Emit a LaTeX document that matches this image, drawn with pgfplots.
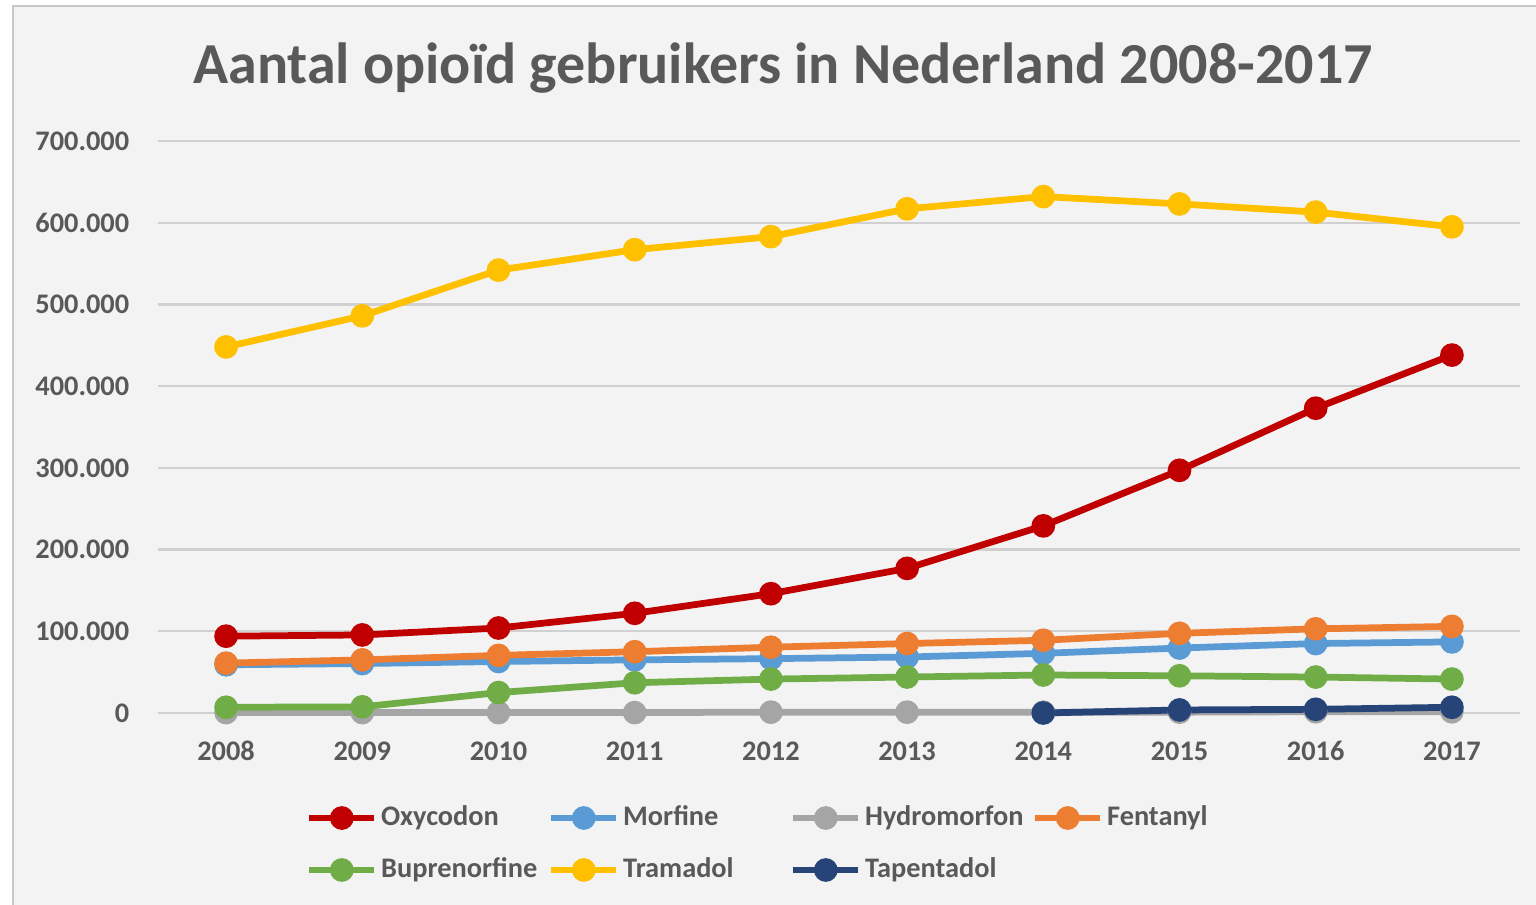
\documentclass[border=0pt]{standalone}
\usepackage{pgfplots}
\pgfplotsset{compat=1.18}
\usepackage{fontspec}
\setmainfont{Carlito}
\definecolor{bg}{HTML}{F3F3F3}
\definecolor{framec}{HTML}{C8C8C8}
\definecolor{txt}{HTML}{595959}
\definecolor{gridc}{HTML}{D0D0D0}
\definecolor{cOxy}{HTML}{C00000}
\definecolor{cMor}{HTML}{5B9BD5}
\definecolor{cHyd}{HTML}{A5A5A5}
\definecolor{cFen}{HTML}{ED7D31}
\definecolor{cBup}{HTML}{70AD47}
\definecolor{cTra}{HTML}{FFC000}
\definecolor{cTap}{HTML}{264478}
\begin{document}
\begin{tikzpicture}
\useasboundingbox (0,0) rectangle (16cm,9.4271cm);
\fill[bg] (0.1354cm,0) rectangle (16cm,9.365cm);
\draw[framec, line width=0.8pt] (0.1354cm,-0.1cm) -- (0.1354cm,9.365cm) -- (16.1cm,9.365cm);
\node[font=\bfseries\fontsize{17.2}{21}\selectfont, text=txt] at (8.156cm,8.719cm) {Aantal opioïd gebruikers in Nederland 2008-2017};
\begin{axis}[
  at={(1.6458cm,2.0cm)}, anchor=south west,
  scale only axis, width=14.1875cm, height=5.9583cm,
  xmin=-0.5, xmax=9.5, ymin=0, ymax=700000,
  axis line style={draw=none},
  clip=false,
  scaled y ticks=false,
  xtick={0,...,9},
  xticklabels={2008,2009,2010,2011,2012,2013,2014,2015,2016,2017},
  ytick={0,100000,200000,300000,400000,500000,600000,700000},
  yticklabels={0,100.000,200.000,300.000,400.000,500.000,600.000,700.000},
  tick label style={font=\bfseries\fontsize{8.4}{10}\selectfont, text=txt},
  major tick length=0pt,
  xmajorgrids=false,
  ymajorgrids=true,
  major grid style={draw=gridc, line width=0.7pt},
  yticklabel style={xshift=-5pt},
  xticklabel style={yshift=-3.5pt, text height=1.5ex, text depth=0pt},
  every axis plot/.append style={line width=2pt, mark=*, mark size=2.5pt},
  legend columns=4,
  legend style={at={(axis description cs:0.1006,-0.137)}, anchor=north west, draw=none, fill=none,
     font=\bfseries\fontsize{8.4}{10}\selectfont, text=txt,
     nodes={text width=1.70cm, align=left, inner xsep=1pt},
     /tikz/every odd column/.append style={column sep=0pt},
     row sep=4pt},
  legend image code/.code={\draw[#1, mark repeat=2, mark phase=2] plot coordinates {(0cm,0cm) (0.34cm,0cm) (0.68cm,0cm)};},
]
\addplot[color=cOxy, mark options={fill=cOxy, draw=cOxy}] coordinates {(0,94000) (1,95500) (2,104000) (3,122000) (4,146000) (5,177000) (6,229000) (7,297000) (8,373000) (9,438000)};
\addlegendentry{Oxycodon}
\addplot[color=cMor, mark options={fill=cMor, draw=cMor}] coordinates {(0,59000) (1,60500) (2,63000) (3,65000) (4,66500) (5,68500) (6,73000) (7,79500) (8,85000) (9,87000)};
\addlegendentry{Morfine}
\addplot[color=cHyd, mark options={fill=cHyd, draw=cHyd}] coordinates {(0,500) (1,500) (2,500) (3,500) (4,1000) (5,1000) (6,1000) (7,1000) (8,1500) (9,1500)};
\addlegendentry{Hydromorfon}
\addplot[color=cFen, mark options={fill=cFen, draw=cFen}] coordinates {(0,61000) (1,65000) (2,70500) (3,75000) (4,80500) (5,85000) (6,89000) (7,97500) (8,103000) (9,106000)};
\addlegendentry{Fentanyl}
\addplot[color=cBup, mark options={fill=cBup, draw=cBup}] coordinates {(0,7000) (1,7500) (2,25000) (3,37000) (4,41500) (5,44000) (6,46500) (7,45500) (8,44000) (9,41500)};
\addlegendentry{Buprenorfine}
\addplot[color=cTra, mark options={fill=cTra, draw=cTra}] coordinates {(0,448000) (1,486000) (2,542000) (3,567000) (4,583000) (5,617000) (6,632000) (7,623000) (8,613000) (9,595000)};
\addlegendentry{Tramadol}
\addplot[color=cTap, mark options={fill=cTap, draw=cTap}] coordinates {(6,0) (7,3700) (8,4500) (9,7000)};
\addlegendentry{Tapentadol}
\end{axis}
\end{tikzpicture}
\end{document}
